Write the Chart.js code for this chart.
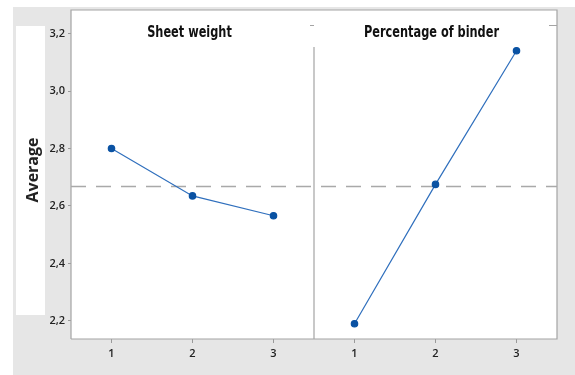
<!DOCTYPE html>
<html>
<head>
<meta charset="utf-8">
<script src="https://cdn.jsdelivr.net/npm/chart.js@4.4.1/dist/chart.umd.min.js"></script>
<style>
  html, body { margin: 0; padding: 0; background: #ffffff; }
  #wrap { width: 575px; height: 375px; position: relative; }
</style>
</head>
<body>
<div id="wrap"><canvas id="c" width="575" height="375"></canvas></div>
<script>
// Main effects: factor names, factor levels and mean response at each level
const factors = ['Sheet weight', 'Percentage of binder'];
const levels = ['1', '2', '3'];
const sheetWeightMeans = [2.800, 2.635, 2.566];
const binderMeans = [2.190, 2.675, 3.140];
const yTicks = [2.2, 2.4, 2.6, 2.8, 3.0, 3.2];
const yLabel = 'Average';

const allMeans = sheetWeightMeans.concat(binderMeans);
const grandMean = allMeans.reduce((a, b) => a + b, 0) / allMeans.length;

// Each factor gets its own panel along one shared x axis (panel p spans levels offset by 3*p)
function panelPoints(values, panel) {
  return values.map((v, i) => ({ x: i + 1 + panel * levels.length, y: v }));
}

const FRAME = '#a4a4a4';
const TITLE_FONT = 'bold 15px "DejaVu Sans Condensed", "Liberation Sans", sans-serif';
const TICK_FONT = { family: '"Open Sans", "Noto Sans", sans-serif', size: 11, weight: '600' };

const backdrop = {
  id: 'backdrop',
  beforeDraw(chart) {
    const ctx = chart.ctx;
    ctx.save();
    ctx.fillStyle = '#ffffff';
    ctx.fillRect(0, 0, chart.width, chart.height);
    ctx.fillStyle = '#e6e6e6';
    ctx.fillRect(13, 7, chart.width - 13, chart.height - 7);
    ctx.fillStyle = '#ffffff';
    ctx.fillRect(16, 26, 29, 289);
    const a = chart.chartArea;
    ctx.fillRect(a.left, a.top, a.right - a.left, a.bottom - a.top);
    // axis title
    ctx.translate(33, 170);
    ctx.rotate(-Math.PI / 2);
    ctx.fillStyle = '#222';
    ctx.font = 'bold 16px "Open Sans", "Noto Sans", sans-serif';
    ctx.textAlign = 'center';
    ctx.textBaseline = 'middle';
    ctx.fillText(yLabel, 0, 0);
    ctx.restore();
  }
};

const panels = {
  id: 'panels',
  beforeDatasetsDraw(chart) {
    const ctx = chart.ctx;
    const a = chart.chartArea;
    const xs = chart.scales.x;
    const ys = chart.scales.y;
    const split = xs.getPixelForValue(levels.length + 0.5);
    ctx.save();
    // frame
    ctx.strokeStyle = FRAME;
    ctx.lineWidth = 1.2;
    ctx.beginPath();
    ctx.moveTo(a.left, a.bottom);
    ctx.lineTo(a.left, a.top);
    ctx.lineTo(a.right, a.top);
    ctx.lineTo(a.right, a.bottom);
    ctx.lineTo(a.left, a.bottom);
    ctx.stroke();
    // panel divider
    ctx.beginPath();
    ctx.moveTo(split, a.top + 37);
    ctx.lineTo(split, a.bottom);
    ctx.moveTo(split - 4, a.top + 15.5);
    ctx.lineTo(split, a.top + 15.5);
    ctx.moveTo(a.right - 8, a.top + 15.5);
    ctx.lineTo(a.right, a.top + 15.5);
    ctx.stroke();
    // grand mean reference line
    const ym = ys.getPixelForValue(grandMean);
    ctx.strokeStyle = '#a9a9a9';
    ctx.lineWidth = 1.5;
    ctx.setLineDash([15, 10]);
    ctx.beginPath();
    ctx.moveTo(a.left, ym);
    ctx.lineTo(a.right, ym);
    ctx.stroke();
    ctx.setLineDash([]);
    // panel titles (condensed horizontally)
    ctx.fillStyle = '#111';
    ctx.font = TITLE_FONT;
    ctx.textAlign = 'center';
    ctx.textBaseline = 'middle';
    const centers = [(a.left + split) / 2 - 3, (split + a.right) / 2 - 4];
    factors.forEach((f, i) => {
      ctx.save();
      ctx.translate(centers[i], a.top + 23.5);
      ctx.scale(0.84, 1);
      ctx.fillText(f, 0, 0);
      ctx.restore();
    });
    ctx.restore();
  }
};

const lineStyle = {
  borderColor: '#2f6fbd',
  borderWidth: 1.2,
  pointBackgroundColor: '#0a52a3',
  pointBorderColor: '#0a52a3',
  pointRadius: 3.2,
  pointHoverRadius: 3.2,
  tension: 0,
  fill: false
};

new Chart(document.getElementById('c'), {
  type: 'line',
  data: {
    datasets: [
      Object.assign({ label: factors[0], data: panelPoints(sheetWeightMeans, 0) }, lineStyle),
      Object.assign({ label: factors[1], data: panelPoints(binderMeans, 1) }, lineStyle)
    ]
  },
  options: {
    responsive: false,
    animation: false,
    devicePixelRatio: 1,
    layout: { padding: { left: 0, top: 10, right: 18, bottom: 0 } },
    plugins: { legend: { display: false }, tooltip: { enabled: false } },
    scales: {
      x: {
        type: 'linear',
        min: 0.5,
        max: levels.length * factors.length + 0.5,
        afterBuildTicks(scale) {
          const t = [];
          for (let p = 0; p < factors.length; p++) {
            levels.forEach((l, i) => t.push({ value: i + 1 + p * levels.length }));
          }
          scale.ticks = t;
        },
        afterFit(scale) { scale.height = 36; },
        grid: { drawOnChartArea: false, tickLength: 4, color: '#9a9a9a', lineWidth: 1 },
        border: { display: false },
        ticks: {
          color: '#222',
          font: TICK_FONT,
          padding: 4,
          maxRotation: 0,
          callback: (v) => levels[(Math.round(v) - 1) % levels.length]
        }
      },
      y: {
        type: 'linear',
        min: 2.137,
        max: 3.282,
        afterBuildTicks(scale) { scale.ticks = yTicks.map(v => ({ value: v })); },
        afterFit(scale) { scale.width = 71; },
        grid: { drawOnChartArea: false, tickLength: 3, color: '#9a9a9a', lineWidth: 1 },
        border: { display: false },
        ticks: {
          color: '#222',
          font: TICK_FONT,
          padding: 3,
          callback: (v) => v.toFixed(1).replace('.', ',')
        }
      }
    }
  },
  plugins: [backdrop, panels]
});
</script>
</body>
</html>
